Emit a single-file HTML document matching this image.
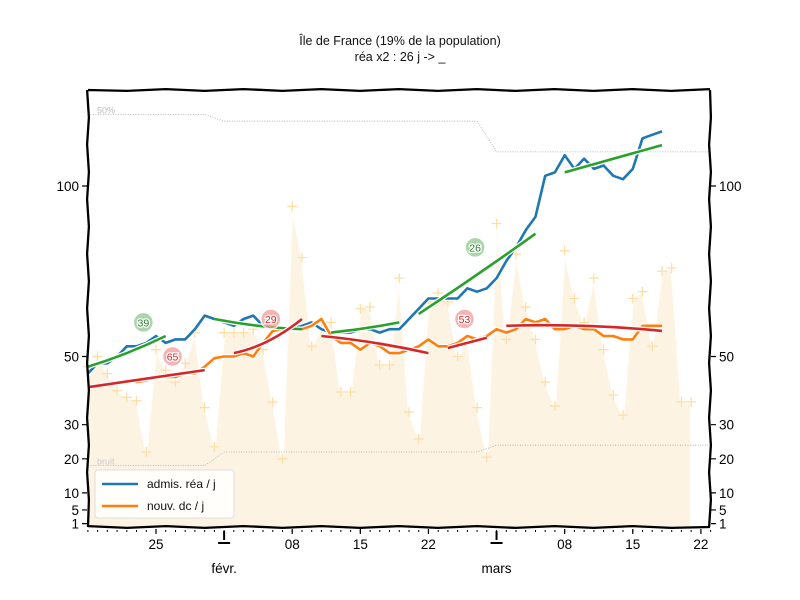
<!DOCTYPE html>
<html><head><meta charset="utf-8">
<style>
body{margin:0;background:#fff;}
svg{display:block;font-family:"Liberation Sans",sans-serif;}
</style></head>
<body>
<svg id="chart" width="800" height="600" viewBox="0 0 800 600">
<rect width="800" height="600" fill="#fff"/>
<text x="400" y="45" text-anchor="middle" font-size="12.5" fill="#111">Île de France (19% de la population)</text>
<text x="400" y="61" text-anchor="middle" font-size="12.5" fill="#111">réa x2 : 26 j -&gt; _</text>
<g id="plot"></g>
</svg>
<script>
// ---- data (day index 0 = 25 janv.) ----
const dailyStart = -7;
const dailyRaw = [47,50,45,40,38,37,22,52,46,42.5,48,57,35,23.5,57,57,57,58,52,36.6,20,94,79,53,58,60,39.6,39.6,64,64.5,47.5,47.5,73,33.7,25.8,66,68.6,66,50,55,35,20.5,89,55,80,64.5,55,42.5,35.5,81,67,60,73,52,38.7,32.8,67,69,53,75,76,36.7,36.7];
const admStart = -7;
const admissions = [45,48,48,50,53,53,54,56,54,55,55,58,62,61,60,59,61,62,59,58,58,58,59,60,58,57,57,57,58,58,57,58,58,61,64,67,67,67,67,70,69,70,73,78,82,87,91,103,104,109,105,108,105,106,103,102,105,114,115,116];
const dcStart = -4;
const deaths = [42,43,42.5,43,44,44,44,45,45,47,49.5,50,50,51,50,54,57.5,58,58,58,59,61,56,54,54,52,54,53,51,51,52,53,55,53,53,54,56,55,56,58,57,58,61,60,61,58,58,59,58,58,56,56,55,55,59,59,59];
// fit segments: [startDay, endDay, startVal, midVal, endVal]
const greenFits = [[-7,1,47,51,56],[6,15,61,59,58],[18,25,57,58.3,60],[27,39,62.5,74,86],[42,52,104,108,112]];
const redFits = [[-7,5,41,43.5,46],[8,15,51,54.5,61],[17,28,56,54,51],[30,34,52.5,54,55.5],[36,52,59,59,57.5]];
const fitLabels = [["39",-1.3,60,"g"],["65",1.7,50,"r"],["29",11.8,61,"r"],["26",32.8,82,"g"],["53",31.7,61,"r"]];
const yTicks = [1,5,10,20,30,50,100];
const xTickDays = [0,14,21,28,42,49,56];
const xTickLabels = ["25","08","15","22","08","15","22"];
const monthDays = [7,35];
const monthLabels = ["févr.","mars"];
const highDays = [-7,5,7,33,35,57];
const highVals = [121,121,119,119,110,110];
const lowDays = [-7,5,7,33,35,57];
const lowVals = [18,18,22,22,24,24];

// ---- axes ----
const X0=88,X1=710,Y0=527,Y1=90;
const xs = d => 156 + 9.73*d;
const ys = v => 527 - 3.41*v;
const NS="http://www.w3.org/2000/svg";
const plot=document.getElementById('plot');
function mk(tag,attrs,parent){const e=document.createElementNS(NS,tag);for(const k in attrs)e.setAttribute(k,attrs[k]);(parent||plot).appendChild(e);return e;}

// fill of daily raw
let fp=`M${xs(dailyStart)},${ys(0)} `;
dailyRaw.forEach((v,i)=>{fp+=`L${xs(dailyStart+i).toFixed(1)},${ys(v).toFixed(1)} `;});
fp+=`L${xs(dailyStart+dailyRaw.length-1)},${ys(0)} Z`;
const fill=mk('path',{d:fp,fill:'#fdf3e3',stroke:'none'});


const fl=mk('path',{d:fp.replace(/ Z$/,''),fill:'none',stroke:'#fff',"stroke-width":2.5,opacity:0.8});


dailyRaw.forEach((v,i)=>{
  const x=xs(dailyStart+i),y=ys(v);
  const m=mk('path',{d:`M${x-5},${y}h10M${x},${y-5}v10`,stroke:'#fddfa6',"stroke-width":1.3});
  
  
});

// threshold dotted lines
function dotted(days,vals,name){
  const d=days.map((dd,i)=>(i?'L':'M')+xs(dd).toFixed(1)+','+ys(vals[i]).toFixed(1)).join(' ');
  const p=mk('path',{d:d,fill:'none',stroke:'#aaa',"stroke-width":0.8,"stroke-dasharray":"1,1.5"});
  
  
}
dotted(highDays,highVals,'threshold-50pct-line');
dotted(lowDays,lowVals,'threshold-noise-line');
let t=mk('text',{x:97,y:ys(highVals[0])-1,"font-size":9,fill:'#bbb'});t.textContent='50%';


t=mk('text',{x:97,y:ys(lowVals[0])-1,"font-size":9,fill:'#ccc'});t.textContent='bruit';



// series lines
function series(start,vals,color,name){
  const d=vals.map((v,i)=>(i?'L':'M')+xs(start+i).toFixed(1)+','+ys(v).toFixed(1)).join(' ');
  mk('path',{d:d,fill:'none',stroke:'#fff',"stroke-width":5,"stroke-linejoin":"round"});
  const p=mk('path',{d:d,fill:'none',stroke:color,"stroke-width":2.6,"stroke-linejoin":"round"});
  
  
}
series(admStart,admissions,'#1f77b4','admissions-line');
series(dcStart,deaths,'#ff7f0e','deaths-line');

function fits(arr,color,name){
  arr.forEach(f=>{
    const [a,b,v0,vm,v1]=f;
    const xa=xs(a),xb=xs(b),xm=(xa+xb)/2;
    const cy=2*ys(vm)-(ys(v0)+ys(v1))/2;
    const d=`M${xa.toFixed(1)},${ys(v0).toFixed(1)} Q${xm.toFixed(1)},${cy.toFixed(1)} ${xb.toFixed(1)},${ys(v1).toFixed(1)}`;
    mk('path',{d:d,fill:'none',stroke:'#fff',"stroke-width":5});
    const p=mk('path',{d:d,fill:'none',stroke:color,"stroke-width":2.6});
    
    
  });
}
fits(greenFits,'#2ca02c','admissions-fit');
fits(redFits,'#d62728','deaths-fit');

fitLabels.forEach(l=>{
  const x=xs(l[1]),y=ys(l[2]);
  const g=l[3]==='g';
  const c=mk('circle',{cx:x,cy:y,r:10,fill:g?'#8fc98f':'#f49a9a',stroke:'#fff',"stroke-width":1.5,opacity:0.75});
  
  
  const tt=mk('text',{x:x,y:y+4,"text-anchor":"middle","font-size":10.5,fill:g?'#2a7a2a':'#d62728',stroke:'#fff',"stroke-width":2.5,"paint-order":"stroke"});
  tt.textContent=l[0];
  
  
});

// frame (slightly wobbly)
function wob(x0,y0,x1,y1){let d=`M${x0},${y0}`;const n=16;for(let i=1;i<=n;i++){const f=i/n;const off=(i%2?0.9:-0.9);d+=` L${(x0+(x1-x0)*f+(x0===x1?off:0)).toFixed(1)},${(y0+(y1-y0)*f+(y0===y1?off:0)).toFixed(1)}`;}return d;}
const fr=mk('path',{d:wob(X0,Y1,X1,Y1)+' '+wob(X1,Y1,X1,Y0)+' '+wob(X1,Y0,X0,Y0)+' '+wob(X0,Y0,X0,Y1),fill:'none',stroke:'#000',"stroke-width":2.3,"stroke-linejoin":"round"});



// y ticks both sides
yTicks.forEach(v=>{
  const y=ys(v);
  mk('path',{d:`M${X0-6},${y}h5M${X1+1},${y}h5`,stroke:'#000',"stroke-width":1.2});
  let a=mk('text',{x:X0-9,y:y+5,"text-anchor":"end","font-size":13.5,fill:'#000'});a.textContent=v;
  
  
  a=mk('text',{x:X1+9,y:y+5,"text-anchor":"start","font-size":13.5,fill:'#000'});a.textContent=v;
  
  
});
// x minor ticks
for(let d=-7;d<=57;d++){mk('path',{d:`M${xs(d).toFixed(1)},${Y0+3}v2`,stroke:'#000',"stroke-width":1});}
xTickDays.forEach((d,i)=>{
  const x=xs(d);
  mk('path',{d:`M${x},${Y0+2}v5`,stroke:'#000',"stroke-width":1.2});
  const a=mk('text',{x:x,y:Y0+22,"text-anchor":"middle","font-size":13.5,fill:'#000'});a.textContent=xTickLabels[i];
  
  
});
monthDays.forEach((d,i)=>{
  const x=xs(d);
  mk('path',{d:`M${x},${Y0+4}v9M${x-6},${Y0+16}h12`,stroke:'#000',"stroke-width":2});
  const a=mk('text',{x:x,y:Y0+46,"text-anchor":"middle","font-size":13.5,fill:'#000'});a.textContent=monthLabels[i];
  
  
});

// legend
const lg=mk('g',{});


mk('rect',{x:95,y:470,width:139,height:48,rx:3,fill:'#fff',"fill-opacity":0.85,stroke:'#ddd',"stroke-width":1},lg);
[['#1f77b4','admis. réa / j',484],['#ff7f0e','nouv. dc / j',506]].forEach(e=>{
  const g=mk('g',{},lg);
  
  
  mk('path',{d:`M102,${e[2]}h36`,stroke:e[0],"stroke-width":2.6},g);
  const tx=mk('text',{x:147,y:e[2]+4,"font-size":12,fill:'#111'},g);tx.textContent=e[1];
});
</script>
</body></html>
